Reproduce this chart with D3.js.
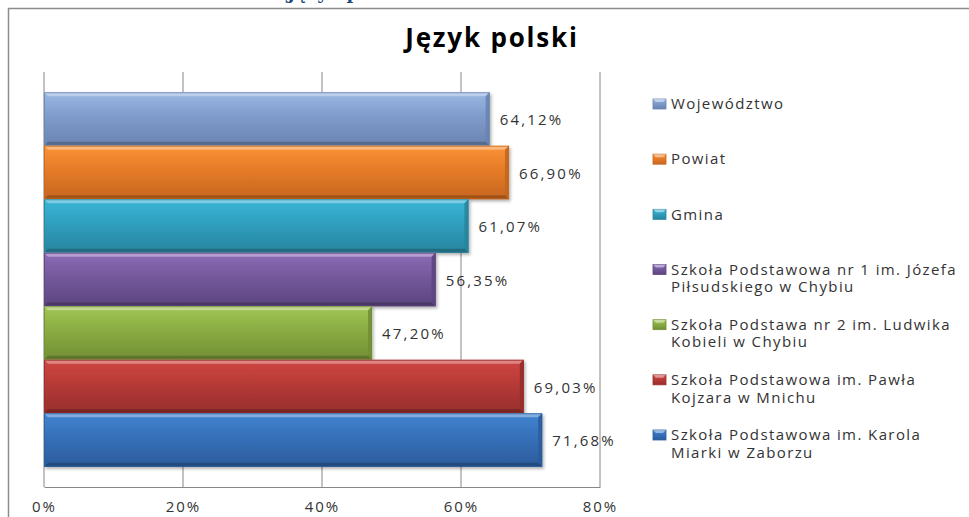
<!DOCTYPE html>
<html lang="pl">
<head>
<meta charset="utf-8">
<title>Język polski</title>
<script src="https://cdn.jsdelivr.net/npm/d3@7"></script>
<style>
    html, body {
        margin: 0;
        padding: 0;
        background: #ffffff;
        overflow: hidden;
    }
    svg.chart {
        display: block;
    }
    .chart text {
        font-family: 'Open Sans', 'DejaVu Sans', sans-serif;
        fill: #333333;
    }
    .chart__heading {
        font-family: 'DejaVu Serif', serif !important;
        font-weight: bold;
        fill: #1f497d !important;
    }
    .chart__title {
        font-weight: bold;
        fill: #000000 !important;
    }
    .chart__grid line {
        stroke: #868686;
        stroke-width: 1;
    }
</style>
</head>
<body>
<svg class="chart"></svg>
<script>
const categories = [
    'Województwo',
    'Powiat',
    'Gmina',
    'Szkoła Podstawowa nr 1 im. Józefa\nPiłsudskiego w Chybiu',
    'Szkoła Podstawa nr 2 im. Ludwika\nKobieli w Chybiu',
    'Szkoła Podstawowa im. Pawła\nKojzara w Mnichu',
    'Szkoła Podstawowa im. Karola\nMiarki w Zaborzu',
]

const values = [64.12, 66.90, 61.07, 56.35, 47.20, 69.03, 71.68]

const xTicks = [0, 20, 40, 60, 80]

// top, middle, bottom shades for each bar
const barColors = [
    ['#9bb7e3', '#7f9bcc', '#6a84b0'],
    ['#fb9336', '#e57b28', '#c7661f'],
    ['#3cb6d6', '#2f9fbe', '#28849d'],
    ['#8c6cb6', '#74589c', '#5d457f'],
    ['#a2c756', '#8aac43', '#728f35'],
    ['#cf4642', '#b73a37', '#962e2c'],
    ['#4185d0', '#3670b9', '#2c5c9c'],
]

const WIDTH = 969
const HEIGHT = 517
const PLOT = { left: 44, right: 600, top: 72, bottom: 487 }
const BEVEL = 4

const svg = d3.select('svg.chart')
    .attr('width', WIDTH)
    .attr('height', HEIGHT)
    .attr('viewBox', [0, 0, WIDTH, HEIGHT].join(' '))

const defs = svg.append('defs')

const shadow = defs.append('filter')
    .attr('id', 'bar-shadow')
    .attr('x', '-5%')
    .attr('y', '-10%')
    .attr('width', '115%')
    .attr('height', '130%')
shadow.append('feDropShadow')
    .attr('dx', 1.5)
    .attr('dy', 2)
    .attr('stdDeviation', 1.5)
    .attr('flood-color', '#000000')
    .attr('flood-opacity', 0.3)

barColors.forEach((c, i) => {
    const grad = defs.append('linearGradient')
        .attr('id', `bar-grad-${i}`)
        .attr('x1', 0).attr('y1', 0)
        .attr('x2', 0).attr('y2', 1)
    grad.append('stop').attr('offset', '0%').attr('stop-color', c[0])
    grad.append('stop').attr('offset', '45%').attr('stop-color', c[1])
    grad.append('stop').attr('offset', '100%').attr('stop-color', c[2])
})

// heading of the document, cut by the top edge
svg.append('text')
    .classed('chart__heading', true)
    .attr('x', 287)
    .attr('y', -1.5)
    .attr('font-size', 18)
    .text('Język polski')

// chart frame: only left and top edges are visible
svg.append('line')
    .attr('x1', 8.5).attr('x2', 8.5)
    .attr('y1', 8).attr('y2', HEIGHT)
    .attr('stroke', '#8c8c8c')
    .attr('stroke-width', 1.5)
svg.append('line')
    .attr('x1', 8).attr('x2', WIDTH)
    .attr('y1', 8.5).attr('y2', 8.5)
    .attr('stroke', '#8c8c8c')
    .attr('stroke-width', 1.5)

svg.append('text')
    .classed('chart__title', true)
    .attr('x', 492)
    .attr('y', 47)
    .attr('text-anchor', 'middle')
    .attr('font-size', 26)
    .attr('letter-spacing', 1.8)
    .text('Język polski')

const xScale = d3.scaleLinear()
    .domain([0, 80])
    .range([PLOT.left, PLOT.right])

const yScale = d3.scaleBand()
    .domain(categories)
    .range([PLOT.top, PLOT.bottom])
    .paddingInner(0)
    .paddingOuter(0.378)

const data = categories.map((name, i) => ({ name, value: values[i], index: i }))

svg.append('g')
    .classed('chart__grid', true)
    .selectAll('line')
    .data(xTicks.filter(t => t > 0))
    .join('line')
    .attr('x1', d => xScale(d))
    .attr('x2', d => xScale(d))
    .attr('y1', PLOT.top)
    .attr('y2', PLOT.bottom)

const xAxis = d3.axisBottom(xScale)
    .tickValues(xTicks)
    .tickFormat(d => `${d}%`)
    .tickSize(0)
    .tickPadding(14)

const xAxisGroup = svg.append('g')
    .attr('transform', `translate(0,${PLOT.bottom})`)
    .call(xAxis)
xAxisGroup.select('.domain')
    .attr('stroke', '#868686')
xAxisGroup.selectAll('text')
    .attr('font-size', 15)
    .attr('letter-spacing', 2)

svg.append('line')
    .attr('x1', PLOT.left)
    .attr('x2', PLOT.left)
    .attr('y1', PLOT.top)
    .attr('y2', PLOT.bottom)
    .attr('stroke', '#868686')

const bars = svg.append('g')
    .selectAll('g')
    .data(data)
    .join('g')
    .attr('filter', 'url(#bar-shadow)')

bars.append('rect')
    .attr('x', xScale(0))
    .attr('y', d => yScale(d.name))
    .attr('width', d => xScale(d.value) - xScale(0))
    .attr('height', yScale.bandwidth())
    .attr('fill', d => `url(#bar-grad-${d.index})`)

// bevel edges: top light, right and bottom dark
bars.append('path')
    .attr('d', d => {
        const x0 = xScale(0), x1 = xScale(d.value), y0 = yScale(d.name)
        return `M${x0},${y0}H${x1}L${x1 - BEVEL},${y0 + BEVEL}H${x0 + BEVEL}Z`
    })
    .attr('fill', '#ffffff')
    .attr('opacity', 0.35)

bars.append('path')
    .attr('d', d => {
        const x1 = xScale(d.value), y0 = yScale(d.name), y1 = y0 + yScale.bandwidth()
        return `M${x1},${y0}V${y1}L${x1 - BEVEL},${y1 - BEVEL}V${y0 + BEVEL}Z`
    })
    .attr('fill', d => barColors[d.index][2])
    .attr('opacity', 0.9)

bars.append('path')
    .attr('d', d => {
        const x0 = xScale(0), x1 = xScale(d.value), y1 = yScale(d.name) + yScale.bandwidth()
        return `M${x0},${y1}H${x1}L${x1 - BEVEL},${y1 - BEVEL}H${x0 + BEVEL}Z`
    })
    .attr('fill', '#000000')
    .attr('opacity', 0.2)

bars.append('rect')
    .attr('x', xScale(0) + 0.5)
    .attr('y', d => yScale(d.name) + 0.5)
    .attr('width', d => xScale(d.value) - xScale(0) - 1)
    .attr('height', yScale.bandwidth() - 1)
    .attr('fill', 'none')
    .attr('stroke', d => barColors[d.index][2])
    .attr('stroke-opacity', 0.8)

svg.append('g')
    .selectAll('text')
    .data(data)
    .join('text')
    .attr('x', d => xScale(d.value) + 10)
    .attr('y', d => yScale(d.name) + yScale.bandwidth() / 2 + 1)
    .attr('dy', '0.35em')
    .attr('font-size', 15)
    .attr('letter-spacing', 2.2)
    .text(d => `${d.value.toFixed(2).replace('.', ',')}%`)

const legendY = d3.scalePoint()
    .domain(categories)
    .range([104, 435])

const legend = svg.append('g')
    .selectAll('g')
    .data(data)
    .join('g')
    .attr('transform', d => `translate(653,${legendY(d.name)})`)

legend.append('rect')
    .attr('x', 0)
    .attr('y', -5)
    .attr('width', 13)
    .attr('height', 10)
    .attr('fill', d => `url(#bar-grad-${d.index})`)
    .attr('stroke', d => barColors[d.index][2])
    .attr('stroke-width', 0.8)

legend.append('path')
    .attr('d', 'M0,-5H13L10,-2H3Z')
    .attr('fill', '#ffffff')
    .attr('opacity', 0.45)

// one text element per line of the legend label
legend.selectAll('text')
    .data(d => d.name.split('\n'))
    .join('text')
    .attr('x', 18)
    .attr('y', (d, i) => i * 17.5)
    .attr('dy', '0.35em')
    .attr('font-size', 15)
    .attr('letter-spacing', 1.4)
    .text(d => d)
</script>
</body>
</html>
